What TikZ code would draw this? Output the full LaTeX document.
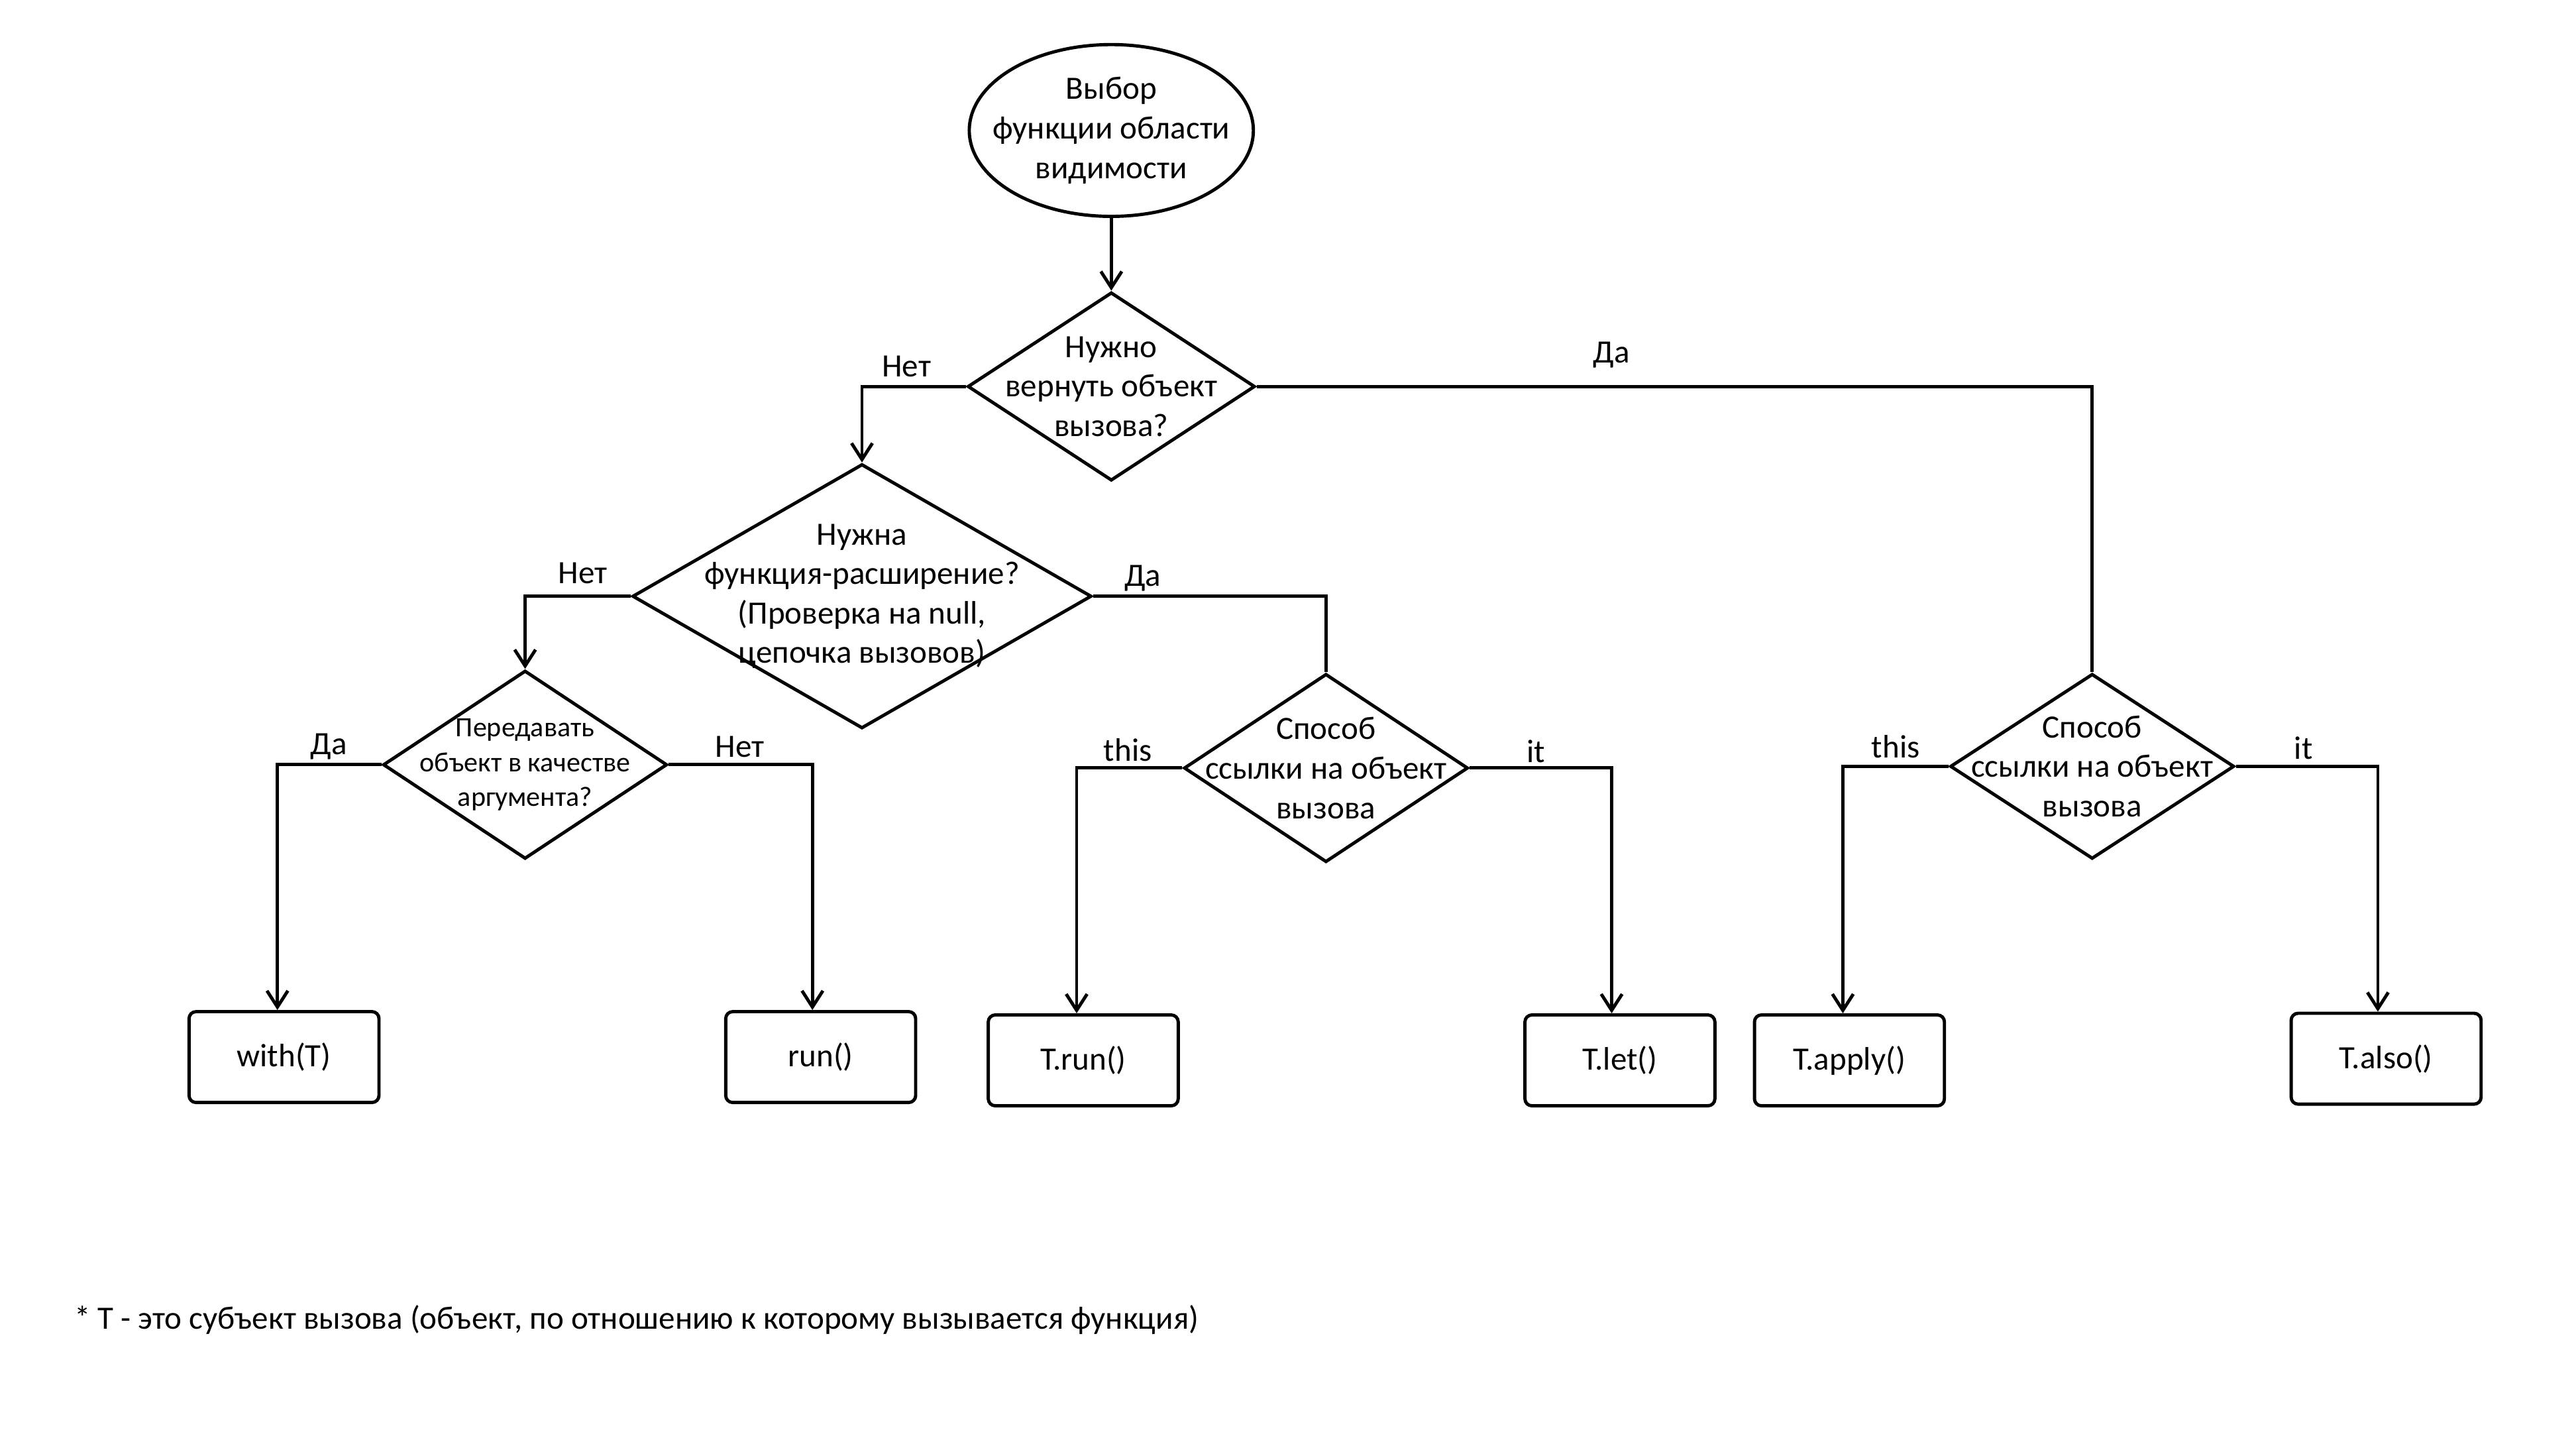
\documentclass[tikz,border=0pt]{standalone}
\usepackage{fontspec}
\setmainfont{Carlito}
\usetikzlibrary{shapes.geometric,arrows.meta}
\begin{document}
\begin{tikzpicture}[x=0.025cm,y=-0.025cm,
  every node/.style={font=\fontsize{14}{17}\selectfont},
  ln/.style={line width=1.4pt},
  dia/.style={draw,diamond,ln,inner sep=0pt},
  box/.style={draw,ln,rounded corners=3pt,minimum width=2.875cm,minimum height=1.375cm},
  arr/.style={ln,-{Straight Barb[length=7pt,width=9pt,line width=1.4pt]}},
  lab/.style={font=\fontsize{14}{17}\selectfont}]
\useasboundingbox (0,0) rectangle (1560,876.4);
\node[draw,ln,ellipse,minimum width=4.3cm,minimum height=2.6cm] (e) at (673,79) {};
\node[align=center] at (e) {Выбор\\функции области\\видимости};
\node[dia,minimum width=4.35cm,minimum height=2.85cm] (d1) at (673,234) {};
\node[align=center] at (d1) {Нужно\\вернуть объект\\вызова?};
\node[dia,minimum width=6.95cm,minimum height=4cm] (d2) at (522,361) {};
\node[align=center] at (d2) {Нужна\\функция-расширение?\\(Проверка на null,\\цепочка вызовов)};
\node[dia,minimum width=4.3cm,minimum height=2.85cm] (d3) at (318,463) {};
\node[align=center,font=\fontsize{12}{15}\selectfont] at (d3) {Передавать\\объект в качестве\\аргумента?};
\node[dia,minimum width=4.3cm,minimum height=2.85cm] (d4) at (803,465) {};
\node[align=center] at (d4) {Способ\\ссылки на объект\\вызова};
\node[dia,minimum width=4.3cm,minimum height=2.8cm] (d5) at (1267,464) {};
\node[align=center] at (d5) {Способ\\ссылки на объект\\вызова};
\node[box] (b1) at (172,640) {with(T)};
\node[box] (b2) at (497,640) {run()};
\node[box] (b3) at (656,642) {T.run()};
\node[box] (b4) at (981,642) {T.let()};
\node[box] (b5) at (1120,642) {T.apply()};
\node[box] (b6) at (1445,641) {T.also()};
\draw[arr] (e) -- (d1);
\draw[arr] (d1.west) -| (d2.north);
\draw[ln] (d1.east) -| (d5.north);
\draw[arr] (d2.west) -| (d3.north);
\draw[ln] (d2.east) -| (d4.north);
\draw[arr] (d3.west) -| (b1.north -| 168,0);
\draw[arr] (d3.east) -| (b2.north -| 492,0);
\draw[arr] (d4.west) -| (b3.north -| 652,0);
\draw[arr] (d4.east) -| (b4.north -| 976,0);
\draw[arr] (d5.west) -| (b5.north -| 1116,0);
\draw[arr] (d5.east) -| (b6.north -| 1440,0);
\node[lab] (l1) at (549,222) {Нет};
\node[lab] (l2) at (976,215) {Да};
\node[lab] (l3) at (353,347) {Нет};
\node[lab] (l4) at (692,350) {Да};
\node[lab] (l5) at (199,452) {Да};
\node[lab] (l6) at (448,452) {Нет};
\node[lab] (l7) at (683,454) {this};
\node[lab] (l8) at (930,455) {it};
\node[lab] (l9) at (1148,452) {this};
\node[lab] (l10) at (1395,453) {it};
\node[anchor=west] (fn) at (40,799) {* T - это субъект вызова (объект, по отношению к которому вызывается функция)};
\end{tikzpicture}
\end{document}
